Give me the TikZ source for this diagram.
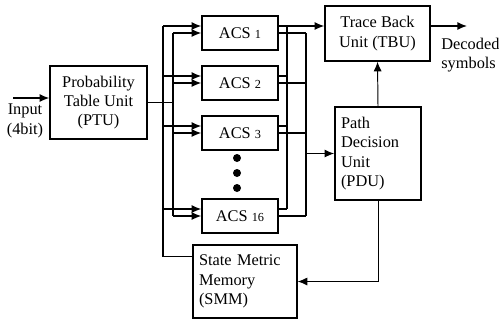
\documentclass[tikz,border=0pt]{standalone}
\usepackage{fontspec}
\setmainfont{Liberation Serif}
\usetikzlibrary{arrows.meta,calc}
\begin{document}
\begin{tikzpicture}[x=0.02cm,y=-0.02cm,
  every node/.style={font=\fontsize{9.3}{11}\selectfont},
  unit/.style={draw,line width=0.8pt,inner sep=0pt,align=center},
  leftunit/.style={unit,align=left,inner xsep=0.12cm},
  wire/.style={line width=0.8pt},
  thinwire/.style={line width=0.55pt},
  tip/.style={-{Latex[length=5.5pt,width=4.6pt]}},
]
\useasboundingbox (0,0) rectangle (499,322);

% processing units
\node[unit,minimum width=1.94cm,minimum height=1.46cm] (ptu) at (98.5,102.5)
  {Probability\\Table Unit\\(PTU)};
\node[unit,minimum width=1.52cm,minimum height=0.68cm] (acs1) at (240,33)
  {ACS {\fontsize{7}{8}\selectfont 1}};
\node[unit,minimum width=1.52cm,minimum height=0.68cm] (acs2) at (240,83)
  {ACS {\fontsize{7}{8}\selectfont 2}};
\node[unit,minimum width=1.52cm,minimum height=0.68cm] (acs3) at (240,133)
  {ACS {\fontsize{7}{8}\selectfont 3}};
\node[unit,minimum width=1.52cm,minimum height=0.68cm] (acs16) at (240,216)
  {ACS {\fontsize{7}{8}\selectfont 16}};
\node[unit,minimum width=2.10cm,minimum height=1.10cm] (tbu) at (377.5,33.5)
  {Trace Back\\Unit (TBU)};
\node[leftunit,text width=1.48cm,minimum height=1.86cm] (pdu) at (378,153.5)
  {Path\\Decision\\Unit\\(PDU)};
\node[leftunit,text width=1.84cm,minimum height=1.46cm] (smm) at (245,281.5)
  {State Metric\\Memory\\(SMM)};

% ellipsis between ACS 3 and ACS 16
\foreach \i/\yy in {1/158,2/173,3/188}
  \node[circle,fill,inner sep=0pt,minimum size=0.16cm] (dot\i) at (237,\yy) {};

% external labels
\node[align=center,inner sep=0pt] (inlbl) at (25,121) {Input\\(4bit)};
\node[align=left,anchor=west,inner sep=0pt] (outlbl) at (441,55) {Decoded\\symbols};

% bus positions
\coordinate (inbeg) at (13,98);
\coordinate (outend) at (467,26);
\coordinate (ia) at (173,0);
\coordinate (oa) at (163,0);
\coordinate (ob1) at (287,0);
\coordinate (ob2) at (306,0);

% input
\draw[wire,tip] (inbeg) -- (inbeg -| ptu.west);

% PTU branch metrics to every ACS
\draw[wire] (ptu.east) -- (ptu.east -| ia);
\draw[wire] (acs1.west -| ia) -- (acs16.west -| ia);
\foreach \acs in {acs1,acs2,acs3,acs16}
  \draw[wire,tip] (\acs.west -| ia) -- (\acs.west);

% state metrics from SMM to every ACS
\draw[wire] ($(smm.north west)+(0,12)$) -| ($(acs1.west -| oa)+(0,-7)$);
\foreach \acs in {acs1,acs2,acs3,acs16}
  \draw[wire,tip] ($(\acs.west -| oa)+(0,-7)$) -- ($(\acs.west)+(0,-7)$);

% ACS outputs towards TBU
\foreach \acs in {acs1,acs2,acs3,acs16}
  \draw[wire] ($(\acs.east)+(0,-7)$) -- ($(\acs.east -| ob1)+(0,-7)$);
\draw[wire] ($(acs16.east -| ob1)+(0,-7)$) -- ($(acs1.east -| ob1)+(0,-7)$);
\draw[wire,tip] ($(acs1.east -| ob1)+(0,-7)$) -- ($(acs1.east -| tbu.west)+(0,-7)$);

% ACS outputs towards PDU
\foreach \acs in {acs1,acs2,acs3,acs16}
  \draw[wire] (\acs.east) -- (\acs.east -| ob2);
\draw[wire] (acs1.east -| ob2) -- (acs16.east -| ob2);
\draw[wire,tip] (pdu.west -| ob2) -- (pdu.west);

% PDU connections
\draw[thinwire,tip] (pdu.north) -- (tbu.south);
\draw[thinwire,tip] (pdu.south) |- (smm.east);

% decoded output
\draw[wire,tip] (tbu.east |- outend) -- (outend);
\end{tikzpicture}
\end{document}
